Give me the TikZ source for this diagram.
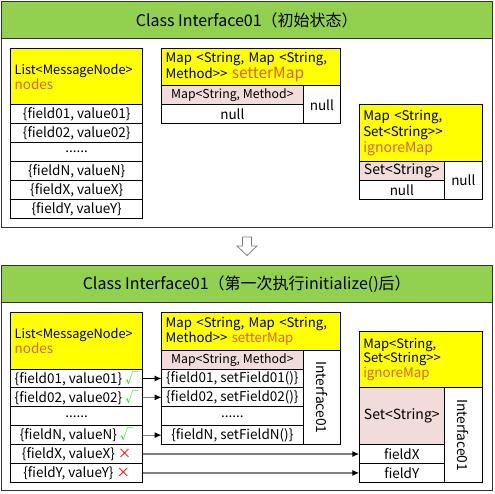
\documentclass[tikz,border=0pt]{standalone}
\usepackage{fontspec}
\setmainfont{Noto Sans CJK SC}
\usetikzlibrary{arrows.meta}
\definecolor{hdrgreen}{RGB}{146,208,80}
\definecolor{ylw}{RGB}{255,255,0}
\definecolor{pinkc}{RGB}{242,220,219}
\definecolor{accent}{RGB}{218,96,58}
\definecolor{okgreen}{RGB}{40,220,40}
\definecolor{nored}{RGB}{255,0,0}
\definecolor{lnkgray}{RGB}{128,128,128}
\begin{document}
\begin{tikzpicture}[x=1pt,y=-1pt,
  cell/.style={draw=black, line width=1pt, fill=white, inner sep=0pt, outer sep=0pt,
    anchor=north west, font=\fontsize{13.5}{15}\selectfont},
  pinkcell/.style={cell, fill=pinkc},
  hdr/.style={cell, fill=ylw, align=left, inner xsep=4pt, font=\fontsize{13}{16}\selectfont},
  panel/.style={draw=black!80, line width=1pt, fill=white},
  ghead/.style={draw=black!80, line width=1pt, fill=hdrgreen, inner sep=0pt, outer sep=0pt,
    anchor=north west, font=\fontsize{16}{18}\selectfont},
  vtext/.style={rotate=-90, font=\fontsize{13.8}{15}\selectfont},
  conn/.style={draw=lnkgray, line width=1.3pt, -{Latex[length=7pt,width=6pt,color=black]}},
]
\useasboundingbox (0,0) rectangle (494,494);
\fill[white] (0,0) rectangle (494,494);

% ================= TOP PANEL =================
\draw[panel] (1.5,1.5) rectangle (492,227);
\node[ghead, minimum width=490.5pt, minimum height=37.5pt] (t1) at (1.5,1.5)
  {Class Interface01（初始状态）};

% List
\node[hdr, minimum width=132pt, minimum height=56pt, text width=124pt, font=\fontsize{12.8}{15}\selectfont] (aL) at (10.7,48.7)
  {List<MessageNode>\\{\fontsize{13.5}{15}\selectfont\color{accent}nodes}};
\node[cell, minimum width=132pt, minimum height=19pt] (a1) at (10.7,104.7) {\{field01, value01\}};
\node[cell, minimum width=132pt, minimum height=19pt] (a2) at (10.7,123.7) {\{field02, value02\}};
\node[cell, minimum width=132pt, minimum height=19pt] (a3) at (10.7,142.7) {......};
\node[cell, minimum width=132pt, minimum height=19pt] (aN) at (10.7,161.7) {\{fieldN, valueN\}};
\node[cell, minimum width=132pt, minimum height=19pt] (aX) at (10.7,180.7) {\{fieldX, valueX\}};
\node[cell, minimum width=132pt, minimum height=19pt] (aY) at (10.7,199.7) {\{fieldY, valueY\}};

% setterMap
\node[hdr, minimum width=179pt, minimum height=37.3pt, text width=171pt, font=\fontsize{13.2}{16}\selectfont] (aS) at (161.7,48.7)
  {Map <String, Map <String,\\Method>{}> {\fontsize{15.5}{16}\selectfont\color{accent}setterMap}};
\node[pinkcell, minimum width=141.3pt, minimum height=19pt, font=\fontsize{12.3}{14}\selectfont] (aSp) at (161.7,86) {Map<String, Method>};
\node[cell, minimum width=141.3pt, minimum height=19pt] (aSn) at (161.7,105) {null};
\node[cell, minimum width=37.7pt, minimum height=38pt] (aSr) at (303,86) {null};

% ignoreMap
\node[hdr, minimum width=123pt, minimum height=56.7pt, text width=115pt, font=\fontsize{13.3}{16}\selectfont] (aI) at (359.3,105)
  {Map <String,\\Set<String>{}>\\{\fontsize{14}{16}\selectfont\color{accent}ignoreMap}};
\node[pinkcell, minimum width=85pt, minimum height=19pt, font=\fontsize{14}{15}\selectfont] (aIp) at (359.3,161.7) {Set<String>};
\node[cell, minimum width=85pt, minimum height=18.8pt] (aIn) at (359.3,180.7) {null};
\node[cell, minimum width=38pt, minimum height=37.8pt] (aIr) at (444.3,161.7) {null};

% ================= DOWN ARROW =================
\draw[draw=lnkgray, line width=0.8pt, fill=white, line join=miter]
  (242.5,237) -- (251.5,237) -- (251.5,246) -- (257,246) -- (247,255.5)
  -- (237,246) -- (242.5,246) -- cycle;

% ================= BOTTOM PANEL =================
\draw[panel] (1.5,265) rectangle (492,490.7);
\node[ghead, minimum width=490.5pt, minimum height=37.7pt] (t2) at (1.5,265)
  {Class Interface01（第一次执行initialize()后）};

% List
\node[hdr, minimum width=132pt, minimum height=56.3pt, text width=124pt, font=\fontsize{12.8}{15}\selectfont] (bL) at (10.7,312.7)
  {List<MessageNode>\\{\fontsize{13.5}{15}\selectfont\color{accent}nodes}};
\node[cell, minimum width=132pt, minimum height=18.9pt] (b1) at (10.7,369)
  {\{field01, value01\} {\color{okgreen}√}};
\node[cell, minimum width=132pt, minimum height=18.9pt] (b2) at (10.7,387.9)
  {\{field02, value02\} {\color{okgreen}√}};
\node[cell, minimum width=132pt, minimum height=18.9pt] (b3) at (10.7,406.8) {......};
\node[cell, minimum width=132pt, minimum height=18.9pt] (bN) at (10.7,425.7)
  {\{fieldN, valueN\} {\color{okgreen}√}};
\node[cell, minimum width=132pt, minimum height=18.9pt] (bX) at (10.7,444.6)
  {\{fieldX, valueX\} {\color{nored}×}};
\node[cell, minimum width=132pt, minimum height=18.9pt] (bY) at (10.7,463.5)
  {\{fieldY, valueY\} {\color{nored}×}};

% setterMap
\node[hdr, minimum width=179pt, minimum height=37.6pt, text width=171pt, font=\fontsize{13.2}{15.5}\selectfont] (bS) at (161.7,312.7)
  {Map <String, Map <String,\\Method>{}> {\fontsize{13.2}{15.5}\selectfont\color{accent}setterMap}};
\node[pinkcell, minimum width=141.3pt, minimum height=18.7pt, font=\fontsize{12.3}{14}\selectfont] (bSp) at (161.7,350.3) {Map<String, Method>};
\node[cell, minimum width=141.3pt, minimum height=18.9pt] (s1) at (161.7,369) {\{field01, setField01()\}};
\node[cell, minimum width=141.3pt, minimum height=18.9pt] (s2) at (161.7,387.9) {\{field02, setField02()\}};
\node[cell, minimum width=141.3pt, minimum height=18.9pt] (s3) at (161.7,406.8) {......};
\node[cell, minimum width=141.3pt, minimum height=18.9pt] (sN) at (161.7,425.7) {\{fieldN, setFieldN()\}};
\node[cell, minimum width=37.7pt, minimum height=94.3pt] (sR) at (303,350.3) {};
\node[vtext] at (sR.center) {Interface01};

% ignoreMap
\node[hdr, minimum width=123pt, minimum height=56.7pt, text width=115pt, font=\fontsize{13}{14.5}\selectfont] (bI) at (359.3,331)
  {Map<String,\\Set<String>{}>\\{\fontsize{13.3}{14.5}\selectfont\color{accent}ignoreMap}};
\node[pinkcell, minimum width=85pt, minimum height=56.9pt, font=\fontsize{14}{15}\selectfont] (iP) at (359.3,387.7) {Set<String>};
\node[cell, minimum width=85pt, minimum height=18.9pt] (iX) at (359.3,444.6) {fieldX};
\node[cell, minimum width=85pt, minimum height=18.9pt] (iY) at (359.3,463.5) {fieldY};
\node[cell, minimum width=38pt, minimum height=94.7pt] (iR) at (444.3,387.7) {};
\node[vtext] at (iR.center) {Interface01};

% connectors
\draw[conn, draw=black] (b1.east) -- (s1.west);
\draw[conn] (b2.east) -- (s2.west);
\draw[conn] (bN.east) -- (sN.west);
\draw[conn] (bX.east) -- (iX.west);
\draw[conn] (bY.east) -- (iY.west);
\end{tikzpicture}
\end{document}
